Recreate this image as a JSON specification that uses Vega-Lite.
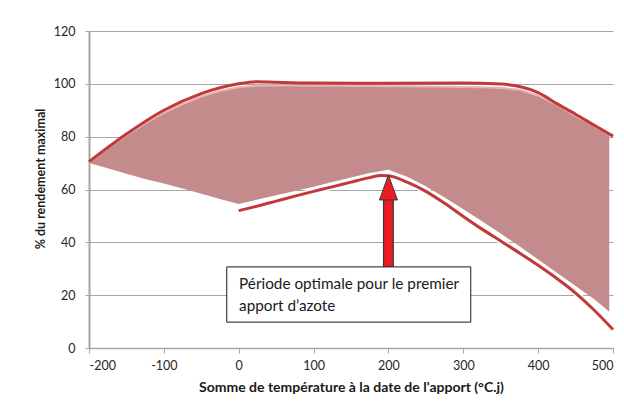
{
  "$schema": "https://vega.github.io/schema/vega-lite/v6.json",
  "autosize": {"type": "none"},
  "width": 524,
  "height": 317,
  "padding": {"left": 89, "top": 31, "right": 11, "bottom": 62},
  "background": "white",
  "config": {
    "view": {"stroke": null},
    "font": "Lato",
    "axis": {"labelFont": "Lato", "labelFontSize": 12.5, "labelColor": "#262626", "titleFont": "Lato", "titleFontWeight": "bold", "titleColor": "#1a1a1a"}
  },
  "datasets": {
    "zone": [
      {"x": -200, "hi": 70, "lo": 70},
      {"x": -175, "hi": 75.5, "lo": 68},
      {"x": -150, "hi": 80.5, "lo": 66},
      {"x": -125, "hi": 85, "lo": 64},
      {"x": -100, "hi": 89, "lo": 62.3},
      {"x": -75, "hi": 92.3, "lo": 60.4},
      {"x": -50, "hi": 95.2, "lo": 58.4},
      {"x": -25, "hi": 97.3, "lo": 56.4},
      {"x": 0, "hi": 98.7, "lo": 54.5},
      {"x": 25, "hi": 99.3, "lo": 56.2},
      {"x": 50, "hi": 99.4, "lo": 57.8},
      {"x": 75, "hi": 99.4, "lo": 59.4},
      {"x": 100, "hi": 99.3, "lo": 61},
      {"x": 125, "hi": 99.3, "lo": 62.8},
      {"x": 150, "hi": 99.2, "lo": 64.5},
      {"x": 175, "hi": 99.2, "lo": 66.2},
      {"x": 200, "hi": 99.1, "lo": 67.5},
      {"x": 225, "hi": 99.1, "lo": 64.8},
      {"x": 250, "hi": 99, "lo": 61.2},
      {"x": 275, "hi": 98.9, "lo": 57},
      {"x": 300, "hi": 98.8, "lo": 52.5},
      {"x": 325, "hi": 98.7, "lo": 48},
      {"x": 350, "hi": 98.4, "lo": 43.3},
      {"x": 375, "hi": 97.8, "lo": 38.5},
      {"x": 400, "hi": 95.5, "lo": 33.5},
      {"x": 425, "hi": 92, "lo": 28.5},
      {"x": 450, "hi": 87.8, "lo": 23.5},
      {"x": 475, "hi": 84, "lo": 18.5},
      {"x": 495, "hi": 80.6, "lo": 13.7}
    ],
    "courbes": [
      {"serie": "haut", "x": -200, "y": 70.5},
      {"serie": "haut", "x": -150, "y": 81},
      {"serie": "haut", "x": -100, "y": 90},
      {"serie": "haut", "x": -50, "y": 96.3},
      {"serie": "haut", "x": 0, "y": 100},
      {"serie": "haut", "x": 25, "y": 100.8},
      {"serie": "haut", "x": 50, "y": 100.6},
      {"serie": "haut", "x": 100, "y": 100.3},
      {"serie": "haut", "x": 200, "y": 100.2},
      {"serie": "haut", "x": 300, "y": 100.3},
      {"serie": "haut", "x": 350, "y": 99.9},
      {"serie": "haut", "x": 375, "y": 99},
      {"serie": "haut", "x": 400, "y": 96.7},
      {"serie": "haut", "x": 425, "y": 92.5},
      {"serie": "haut", "x": 450, "y": 88.5},
      {"serie": "haut", "x": 475, "y": 84.3},
      {"serie": "haut", "x": 500, "y": 80.2},
      {"serie": "bas", "x": 0, "y": 52},
      {"serie": "bas", "x": 25, "y": 53.7},
      {"serie": "bas", "x": 50, "y": 55.6},
      {"serie": "bas", "x": 75, "y": 57.5},
      {"serie": "bas", "x": 100, "y": 59.3},
      {"serie": "bas", "x": 125, "y": 61},
      {"serie": "bas", "x": 150, "y": 62.8},
      {"serie": "bas", "x": 175, "y": 64.5},
      {"serie": "bas", "x": 190, "y": 65.3},
      {"serie": "bas", "x": 200, "y": 65.2},
      {"serie": "bas", "x": 225, "y": 62.8},
      {"serie": "bas", "x": 250, "y": 59.3},
      {"serie": "bas", "x": 275, "y": 54.8},
      {"serie": "bas", "x": 300, "y": 49.8},
      {"serie": "bas", "x": 325, "y": 45},
      {"serie": "bas", "x": 350, "y": 40.5},
      {"serie": "bas", "x": 375, "y": 36},
      {"serie": "bas", "x": 400, "y": 31.3},
      {"serie": "bas", "x": 425, "y": 26.3},
      {"serie": "bas", "x": 450, "y": 20.8},
      {"serie": "bas", "x": 475, "y": 14.3},
      {"serie": "bas", "x": 500, "y": 7}
    ],
    "fleche": [
      {"x": 200, "base": 30.7, "haut": 57, "pointe": 65.5}
    ],
    "encadre": [
      {"x": -16, "x2": 310, "y": 30.7, "y2": 9.8}
    ],
    "texte": [
      {"x": 0.5, "y": 24.4, "t": "Période optimale pour le premier"},
      {"x": 0.5, "y": 15.8, "t": "apport d’azote"}
    ]
  },
  "layer": [
    {
      "data": {"name": "zone"},
      "mark": {"type": "area", "color": "#c48b8c", "opacity": 1},
      "encoding": {
        "x": {"field": "x", "type": "quantitative", "scale": {"domain": [-200, 500], "nice": false},
          "axis": {"values": [-200, -100, 0, 100, 200, 300, 400, 500], "labelExpr": "datum.value", "grid": false, "domainColor": "#a6a6a6", "domainWidth": 1.5, "tickColor": "#a6a6a6", "tickSize": 5, "labelPadding": 6,
            "title": "Somme de température à la date de l'apport (°C.j)", "titleFontSize": 14, "titlePadding": 9}},
        "y": {"field": "hi", "type": "quantitative", "scale": {"domain": [0, 120], "nice": false},
          "axis": {"values": [0, 20, 40, 60, 80, 100, 120], "grid": true, "gridColor": "#a6a6a6", "gridWidth": 1, "domainColor": "#a6a6a6", "domainWidth": 2, "tickColor": "#a6a6a6", "tickSize": 4, "labelPadding": 10,
            "title": "% du rendement maximal", "titleFontSize": 12.5, "titleBaseline": "middle", "titleX": -49, "titleY": 147.5}},
        "y2": {"field": "lo"}
      }
    },
    {
      "data": {"name": "zone"},
      "mark": {"type": "line", "color": "#e8b3b3", "strokeWidth": 2},
      "encoding": {
        "x": {"field": "x", "type": "quantitative"},
        "y": {"field": "hi", "type": "quantitative"}
      }
    },
    {
      "data": {"name": "courbes"},
      "transform": [{"filter": "datum.serie === 'bas'"}],
      "mark": {"type": "line", "color": "white", "strokeWidth": 6, "interpolate": "monotone"},
      "encoding": {
        "x": {"field": "x", "type": "quantitative"},
        "y": {"field": "y", "type": "quantitative"}
      }
    },
    {
      "data": {"name": "courbes"},
      "mark": {"type": "line", "color": "#c0393b", "strokeWidth": 3, "interpolate": "monotone"},
      "encoding": {
        "x": {"field": "x", "type": "quantitative"},
        "y": {"field": "y", "type": "quantitative"},
        "detail": {"field": "serie"}
      }
    },
    {
      "data": {"name": "fleche"},
      "mark": {"type": "rule", "color": "#3a3a3a", "strokeWidth": 11},
      "encoding": {
        "x": {"field": "x", "type": "quantitative"},
        "y": {"field": "base", "type": "quantitative"},
        "y2": {"field": "haut"}
      }
    },
    {
      "data": {"name": "fleche"},
      "mark": {"type": "rule", "color": "#ed1c24", "strokeWidth": 8.5},
      "encoding": {
        "x": {"field": "x", "type": "quantitative"},
        "y": {"field": "base", "type": "quantitative"},
        "y2": {"field": "haut"}
      }
    },
    {
      "data": {"name": "fleche"},
      "mark": {"type": "point", "shape": "M0,0L0.72,2L-0.72,2Z", "size": 625, "filled": true, "fill": "#ed1c24", "stroke": "#3a3a3a", "strokeWidth": 1, "opacity": 1},
      "encoding": {
        "x": {"field": "x", "type": "quantitative"},
        "y": {"field": "pointe", "type": "quantitative"}
      }
    },
    {
      "data": {"name": "encadre"},
      "mark": {"type": "rect", "fill": "white", "stroke": "#1a1a1a", "strokeWidth": 1},
      "encoding": {
        "x": {"field": "x", "type": "quantitative"},
        "x2": {"field": "x2"},
        "y": {"field": "y", "type": "quantitative"},
        "y2": {"field": "y2"}
      }
    },
    {
      "data": {"name": "texte"},
      "mark": {"type": "text", "align": "left", "baseline": "middle", "font": "Lato", "fontSize": 15.3, "color": "#1a1a1a"},
      "encoding": {
        "x": {"field": "x", "type": "quantitative"},
        "y": {"field": "y", "type": "quantitative"},
        "text": {"field": "t"}
      }
    }
  ]
}
